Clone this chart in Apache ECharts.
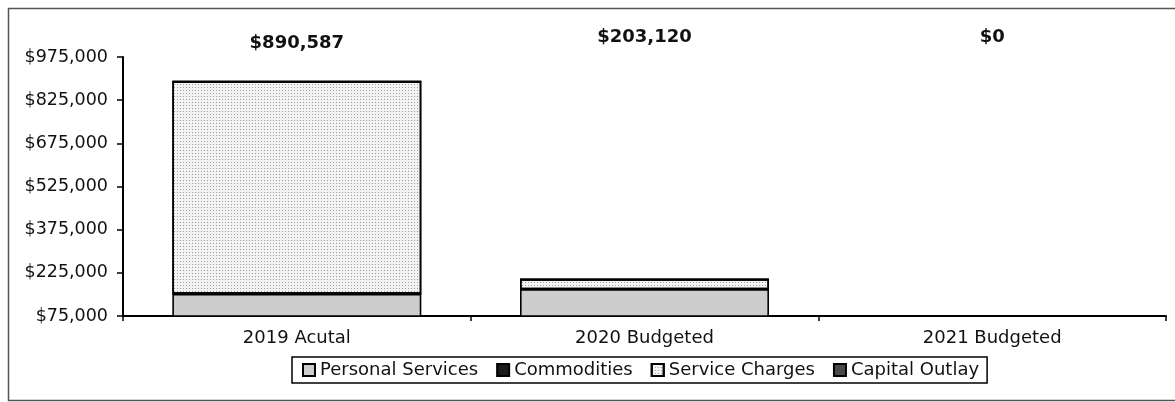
<!DOCTYPE html>
<html>
<head>
<meta charset="utf-8">
<script src="https://cdn.jsdelivr.net/npm/echarts@6/dist/echarts.min.js"></script>
<style>
html,body{margin:0;padding:0;background:#fff;}
#chart{width:1175px;height:402px;}
</style>
</head>
<body>
<div id="chart"></div>
<script>
const categories = ['2019 Acutal', '2020 Budgeted', '2021 Budgeted'];
const personalServices = [152000, 168000, 0];
const commodities = [0, 0, 0];
const serviceCharges = [738587, 35120, 0];
const capitalOutlay = [0, 0, 0];
const totals = [890587, 203120, 0];
const yTicks = { min: 75000, max: 975000, interval: 150000 };

const fmt = v => '$' + Math.round(v).toLocaleString('en-US');
const FONT = 'DejaVu Sans';

const chart = echarts.init(document.getElementById('chart'), null, { renderer: 'canvas' });

const barBorder = { borderColor: '#000', borderWidth: 1.6 };

chart.setOption({
  animation: false,
  backgroundColor: '#fff',
  textStyle: { fontFamily: FONT, color: '#111' },
  graphic: [{
    type: 'rect', left: 6, top: 6, silent: true,
    shape: { width: 1180, height: 392 },
    style: { fill: 'none', stroke: '#555', lineWidth: 1.5 }
  }],
  grid: { left: 123, right: 9, top: 57, bottom: 86, containLabel: false },
  legend: {
    left: 292, top: 357,
    padding: [4, 8, 4, 10],
    borderColor: '#000', borderWidth: 1.5,
    itemWidth: 12, itemHeight: 12, itemGap: 18,
    textStyle: { fontFamily: FONT, fontSize: 18, color: '#111' },
    icon: 'rect',
    data: ['Personal Services', 'Commodities', 'Service Charges', 'Capital Outlay']
  },
  xAxis: [{
    type: 'category', data: categories,
    axisLine: { lineStyle: { color: '#000', width: 2 } },
    axisTick: { show: true, length: 5, lineStyle: { color: '#000', width: 1.5 } },
    axisLabel: { fontFamily: FONT, fontSize: 18, color: '#111', margin: 13 }
  }, {
    type: 'category', data: categories, position: 'top',
    axisLine: { show: false }, axisTick: { show: false },
    axisLabel: {
      margin: 5,
      formatter: (val, i) => (i === 0 ? '{a|' : '{b|') + fmt(totals[i]) + '}',
      rich: {
        a: { fontFamily: FONT, fontSize: 18, fontWeight: 'bold', color: '#111' },
        b: { fontFamily: FONT, fontSize: 18, fontWeight: 'bold', color: '#111', padding: [0, 0, 6, 0] }
      }
    }
  }],
  yAxis: {
    type: 'value', min: yTicks.min, max: yTicks.max, interval: yTicks.interval,
    axisLine: { show: true, lineStyle: { color: '#000', width: 2 } },
    axisTick: { show: true, length: 6, lineStyle: { color: '#000', width: 1.5 } },
    splitLine: { show: false },
    axisLabel: { fontFamily: FONT, fontSize: 17.5, color: '#111', margin: 15, formatter: v => fmt(v) }
  },
  series: [
    { name: 'Personal Services', type: 'bar', stack: 'total', data: personalServices,
      barWidth: 249, itemStyle: Object.assign({ color: '#cdcdcd' }, barBorder) },
    { name: 'Commodities', type: 'bar', stack: 'total', data: commodities,
      barWidth: 249, itemStyle: Object.assign({ color: '#1a1a1a' }, barBorder) },
    { name: 'Service Charges', type: 'bar', stack: 'total', data: serviceCharges,
      barWidth: 249, itemStyle: Object.assign({
        color: '#f3f3f3',
        decal: { symbol: 'rect', symbolSize: 1, dashArrayX: [1, 2], dashArrayY: [1, 2], color: 'rgba(120,120,120,0.7)', rotation: 0 }
      }, barBorder) },
    { name: 'Capital Outlay', type: 'bar', stack: 'total', data: capitalOutlay,
      barWidth: 249, itemStyle: Object.assign({ color: '#4a4a4a' }, barBorder) }
  ]
});
</script>
</body>
</html>
